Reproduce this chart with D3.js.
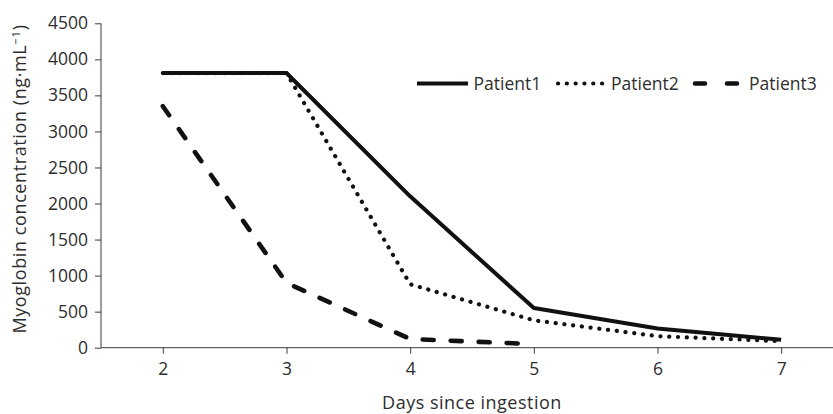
<!DOCTYPE html>
<html>
<head>
<meta charset="utf-8">
<script src="https://cdn.jsdelivr.net/npm/d3@7"></script>
<style>
  html, body { margin: 0; padding: 0; background: #fff; }
  svg { display: block; font-family: "Open Sans", "Noto Sans", sans-serif; }
</style>
</head>
<body>
<svg id="chart" width="833" height="414"></svg>
<script>
// Days since ingestion
const days = [2, 3, 4, 5, 6, 7];
// Myoglobin concentration (ng·mL⁻¹) per patient
const patient1 = [3810, 3810, 2100, 550, 265, 110];
const patient2 = [3810, 3810, 880, 380, 160, 90];
const patient3 = [3350, 900, 120, 50];
const yTicks = [0, 500, 1000, 1500, 2000, 2500, 3000, 3500, 4000, 4500];
const seriesNames = ["Patient1", "Patient2", "Patient3"];

const series = [
  { name: seriesNames[0], values: patient1, dash: null, width: 4, cap: "butt" },
  { name: seriesNames[1], values: patient2, dash: "0.1 8.7", width: 4.2, cap: "round" },
  { name: seriesNames[2], values: patient3, dash: "11 17", width: 4.6, cap: "round" }
];

const svg = d3.select("#chart");
const plotLeft = 101, plotBottom = 347.7, plotTop = 23.3;

const x = d3.scaleLinear().domain([1.5, 7.5]).range([plotLeft, 843]);
const y = d3.scaleLinear().domain([0, 4500]).range([plotBottom, plotTop]);

const axisColor = "#3a3a3a";
const textColor = "#2e2e2e";
const tickFont = 17.5;

// Y axis
const yAxis = svg.append("g")
  .attr("transform", `translate(${plotLeft},0)`)
  .call(d3.axisLeft(y).tickValues(yTicks).tickSize(6).tickPadding(7).tickFormat(d3.format("d")));
yAxis.selectAll("path, line").attr("stroke", axisColor).attr("stroke-width", 1);
yAxis.select(".domain").attr("d", `M0,${plotTop}V${plotBottom}`);
yAxis.selectAll("text").attr("font-size", tickFont).attr("fill", textColor)
  .attr("font-family", "'Open Sans', sans-serif");

// X axis
const xAxis = svg.append("g")
  .attr("transform", `translate(0,${plotBottom})`)
  .call(d3.axisBottom(x).tickValues(days).tickSize(6).tickPadding(9).tickFormat(d3.format("d")));
xAxis.selectAll("path, line").attr("stroke", axisColor).attr("stroke-width", 1);
xAxis.select(".domain").attr("d", `M${plotLeft},0H843`);
xAxis.selectAll("text").attr("font-size", tickFont).attr("fill", textColor)
  .attr("font-family", "'Open Sans', sans-serif");

// Axis titles
svg.append("text")
  .attr("x", x(4.5)).attr("y", 409)
  .attr("text-anchor", "middle")
  .attr("font-size", 18).attr("letter-spacing", 0.5).attr("fill", textColor)
  .text("Days since ingestion");

const yTitle = svg.append("text")
  .attr("transform", `translate(26,179) rotate(-90)`)
  .attr("text-anchor", "middle")
  .attr("font-size", 18).attr("letter-spacing", 0.6).attr("fill", textColor);
yTitle.append("tspan").text("Myoglobin concentration (ng·mL");
yTitle.append("tspan").attr("dy", -6).attr("font-size", 11.5).text("−1");
yTitle.append("tspan").attr("dy", 6).text(")");

// Lines
const line = d3.line().x((d, i) => x(days[i])).y(d => y(d));
series.forEach(s => {
  svg.append("path")
    .datum(s.values)
    .attr("d", line)
    .attr("fill", "none")
    .attr("stroke", "#111")
    .attr("stroke-width", s.width)
    .attr("stroke-linecap", s.cap)
    .attr("stroke-linejoin", "round")
    .attr("stroke-dasharray", s.dash);
});

// Legend
const legendY = 83.5;
const legendItems = [
  { s: series[0], x0: 417, x1: 468, tx: 473.5 },
  { s: series[1], x0: 558, x1: 604, tx: 611 },
  { s: series[2], x0: 695, x1: 739, tx: 749 }
];
legendItems.forEach(li => {
  svg.append("line")
    .attr("x1", li.x0).attr("x2", li.x1)
    .attr("y1", legendY).attr("y2", legendY)
    .attr("stroke", "#111")
    .attr("stroke-width", li.s.width)
    .attr("stroke-linecap", li.s.cap)
    .attr("stroke-dasharray", li.s.name === "Patient3" ? "10 22" : li.s.dash);
  svg.append("text")
    .attr("x", li.tx).attr("y", legendY + 6)
    .attr("font-size", tickFont).attr("fill", textColor)
    .text(li.s.name);
});
</script>
</body>
</html>
